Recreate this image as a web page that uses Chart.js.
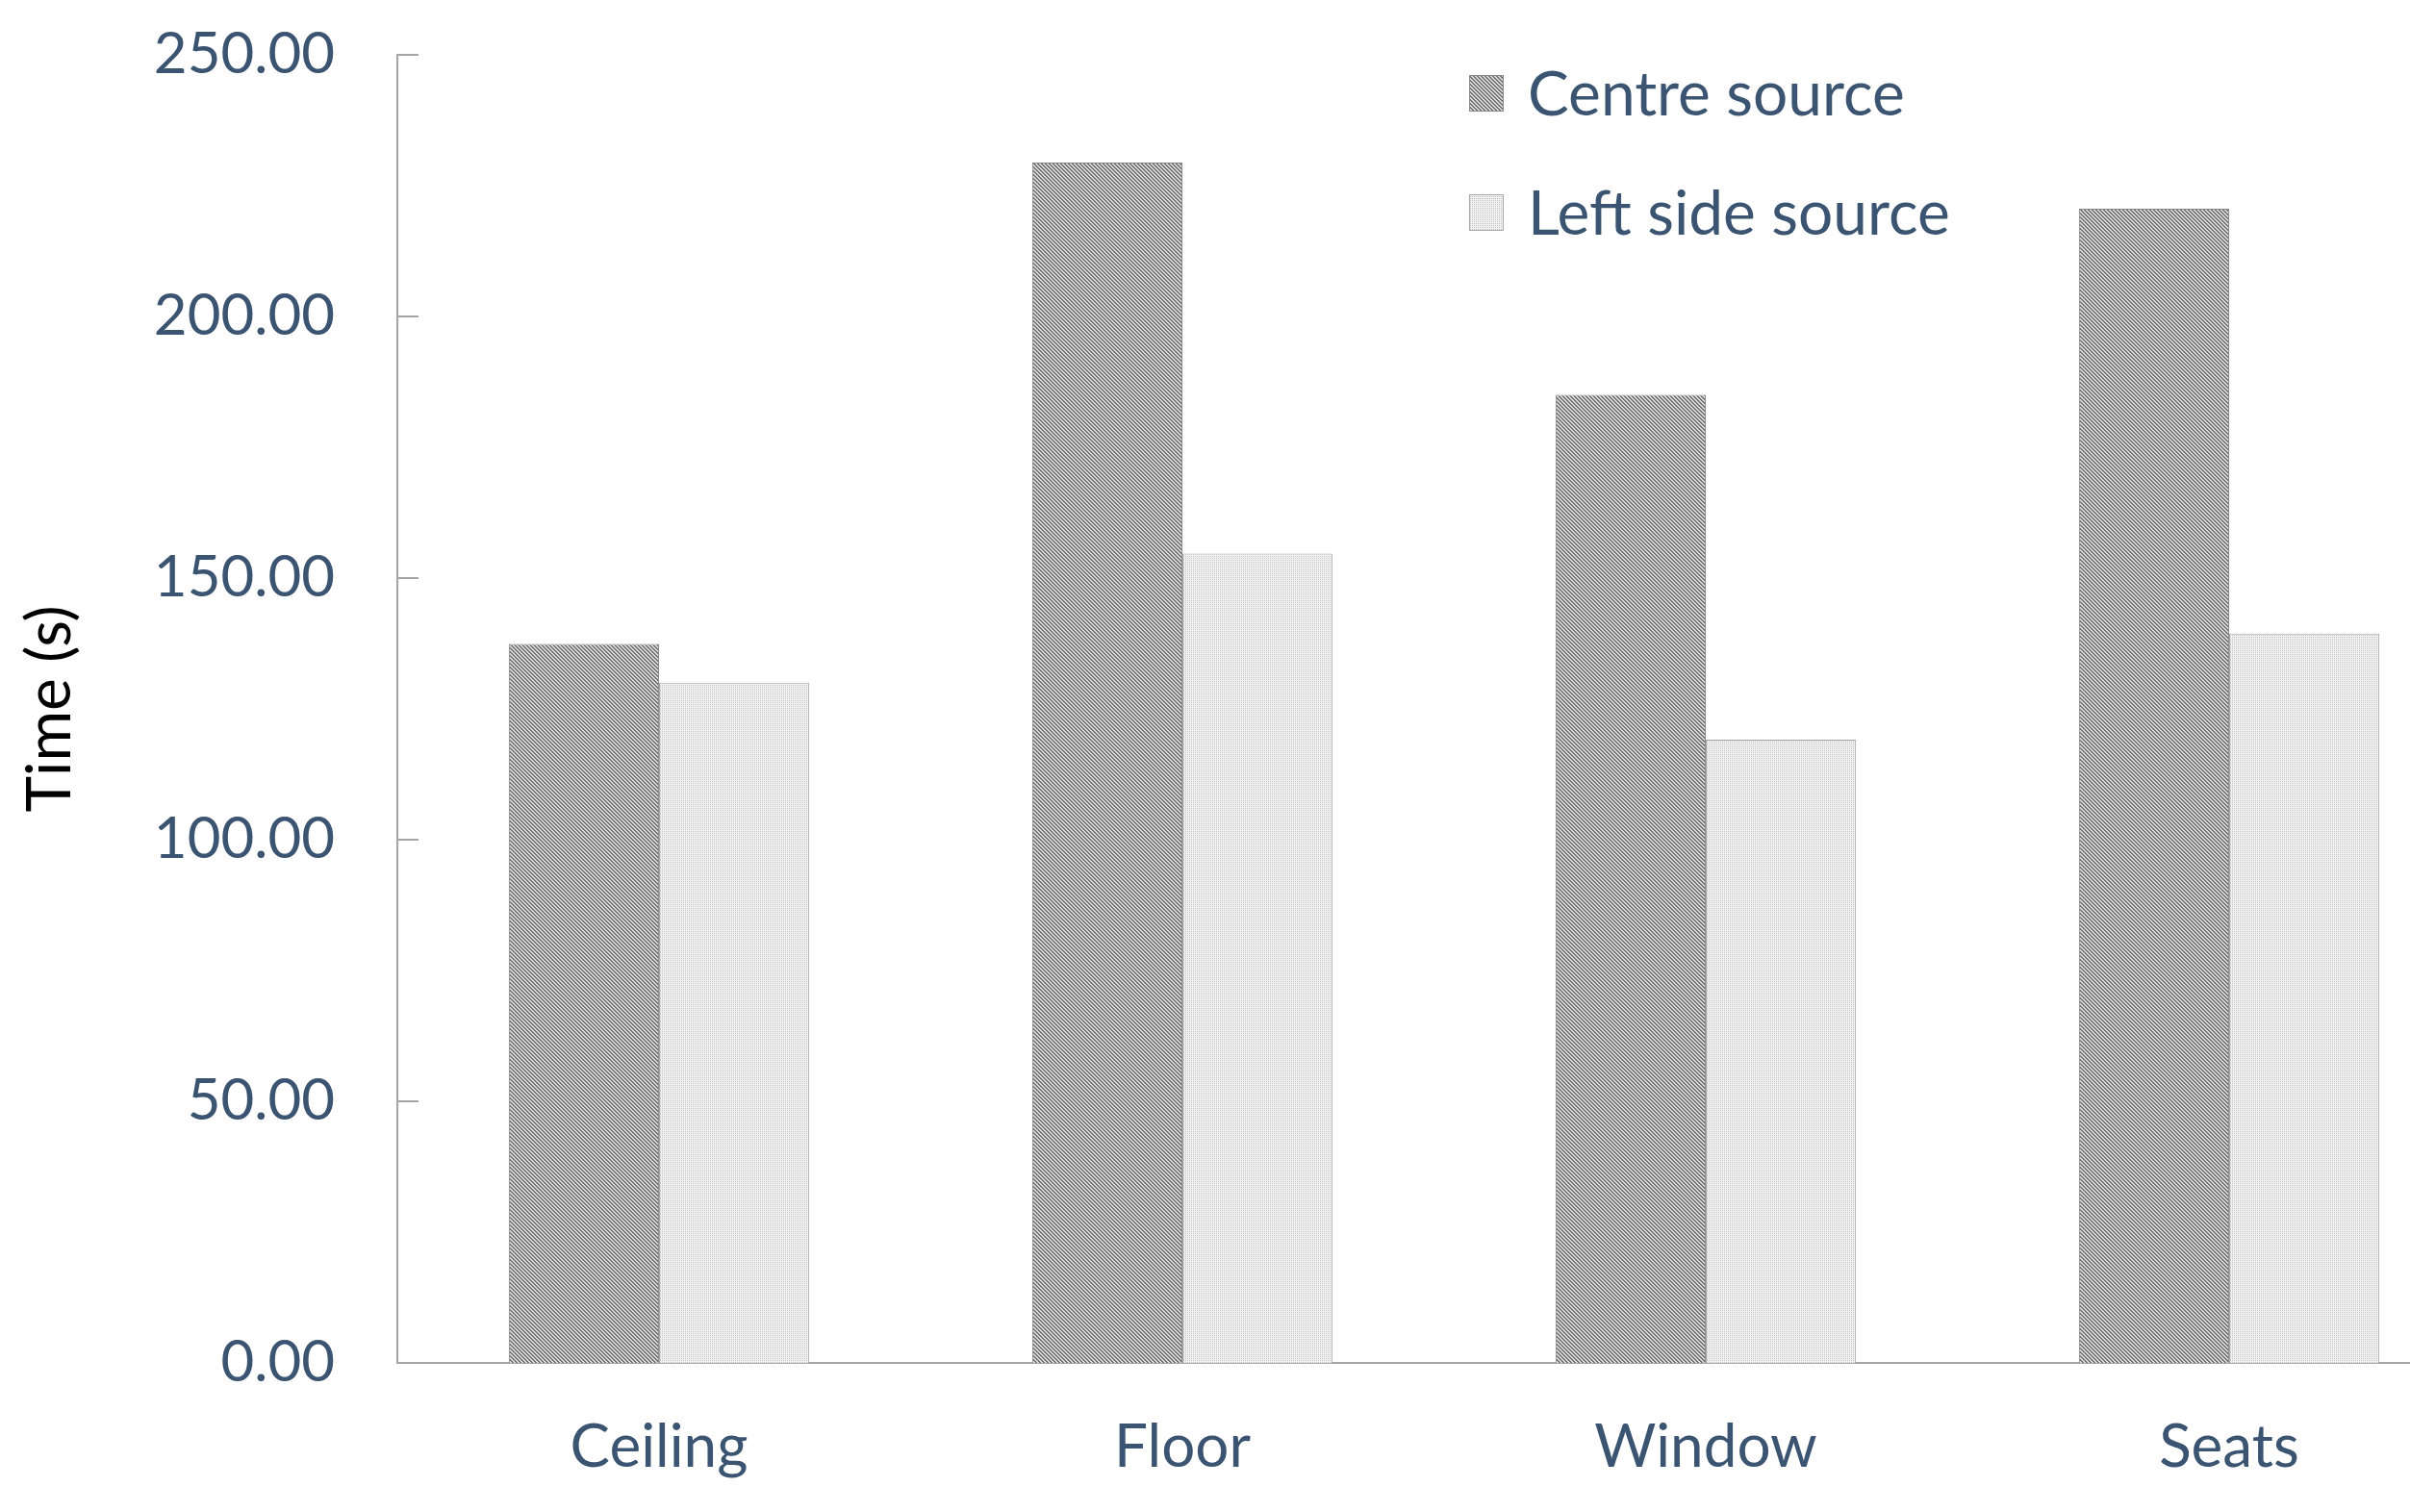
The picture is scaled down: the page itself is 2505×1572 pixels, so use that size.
<!DOCTYPE html>
<html>
<head>
<meta charset="utf-8">
<script src="https://cdn.jsdelivr.net/npm/chart.js@4.4.0/dist/chart.umd.min.js"></script>
<style>
  html, body { margin: 0; padding: 0; background: #ffffff; overflow: hidden; width: 2505px; height: 1572px; }
  #wrap { position: absolute; left: 0; top: 0; width: 2600px; height: 1572px; }
</style>
</head>
<body>
<div id="wrap"><canvas id="c" width="2600" height="1572"></canvas></div>
<script>
const categories = ['Ceiling', 'Floor', 'Window', 'Seats'];
const centreSource = [137.4, 229.4, 185.0, 220.6];
const leftSideSource = [130.0, 154.7, 119.1, 139.4];
const seriesNames = ['Centre source', 'Left side source'];
const yTicks = [0, 50, 100, 150, 200, 250];

const FONT = 'Lato, "Open Sans", sans-serif';
const TEXT_BLUE = '#3a5471';

function makePattern(kind) {
  const t = document.createElement('canvas');
  t.width = 4; t.height = 4;
  const g = t.getContext('2d');
  if (kind === 'diag') {
    g.fillStyle = '#dadada';
    g.fillRect(0, 0, 4, 4);
    g.fillStyle = '#747474';
    for (let r = 0; r < 4; r++) {
      for (let c = 0; c < 4; c++) {
        const d = ((c - r) % 4 + 4) % 4;
        if (d === 0 || d === 1) g.fillRect(c, r, 1, 1);
      }
    }
  } else {
    g.fillStyle = '#f2f2f2';
    g.fillRect(0, 0, 4, 4);
    g.fillStyle = '#c2c2c2';
    g.fillRect(0, 0, 1, 1);
    g.fillRect(2, 0, 1, 1);
    g.fillRect(0, 2, 1, 1);
    g.fillRect(2, 2, 1, 1);
  }
  return document.getElementById('c').getContext('2d').createPattern(t, 'repeat');
}

const centrePattern = makePattern('diag');
const leftPattern = makePattern('dots');

const innerTicks = {
  id: 'innerTicks',
  afterDatasetsDraw(chart) {
    const y = chart.scales.y;
    const ctx = chart.ctx;
    ctx.save();
    ctx.strokeStyle = '#a6a6a6';
    ctx.lineWidth = 2;
    yTicks.forEach(v => {
      const py = Math.round(y.getPixelForValue(v));
      ctx.beginPath();
      ctx.moveTo(y.right, py);
      ctx.lineTo(y.right + 22, py);
      ctx.stroke();
    });
    ctx.restore();
  }
};

const customLegend = {
  id: 'customLegend',
  afterDraw(chart) {
    const ctx = chart.ctx;
    ctx.save();
    const rows = [97, 221];
    chart.data.datasets.forEach((ds, i) => {
      const cy = rows[i];
      ctx.fillStyle = ds.backgroundColor;
      ctx.fillRect(1527, cy - 19, 36, 38);
      ctx.strokeStyle = ds.borderColor;
      ctx.lineWidth = 1;
      ctx.strokeRect(1527.5, cy - 18.5, 35, 37);
      ctx.fillStyle = TEXT_BLUE;
      ctx.font = '64px ' + FONT;
      ctx.textBaseline = 'middle';
      ctx.textAlign = 'left';
      ctx.fillText(ds.label, 1588, cy + 2);
    });
    ctx.restore();
  }
};

new Chart(document.getElementById('c'), {
  type: 'bar',
  data: {
    labels: categories,
    datasets: [
      {
        label: seriesNames[0],
        data: centreSource,
        backgroundColor: centrePattern,
        borderColor: '#8a8a8a',
        borderWidth: 1,
        categoryPercentage: 0.574,
        barPercentage: 1.0
      },
      {
        label: seriesNames[1],
        data: leftSideSource,
        backgroundColor: leftPattern,
        borderColor: '#a8a8a8',
        borderWidth: 1,
        categoryPercentage: 0.574,
        barPercentage: 1.0
      }
    ]
  },
  options: {
    responsive: false,
    animation: false,
    layout: { padding: { top: 57, right: 11, left: 0, bottom: 0 } },
    plugins: {
      legend: { display: false },
      tooltip: { enabled: false },
      title: { display: false }
    },
    scales: {
      x: {
        grid: { display: false, drawTicks: false },
        border: { display: true, color: '#a6a6a6', width: 2 },
        ticks: {
          color: TEXT_BLUE,
          font: { family: FONT, size: 62 },
          padding: 51
        },
        afterFit(scale) { scale.height = 155; }
      },
      y: {
        min: 0,
        max: 250,
        afterBuildTicks(scale) { scale.ticks = yTicks.map(v => ({ value: v })); },
        grid: { display: false, drawTicks: false },
        border: { display: true, color: '#a6a6a6', width: 2 },
        ticks: {
          color: TEXT_BLUE,
          font: { family: FONT, size: 60 },
          padding: 65,
          callback: v => Number(v).toFixed(2)
        },
        title: {
          display: true,
          text: 'Time (s)',
          color: '#000000',
          font: { family: FONT, size: 64 },
          padding: { top: 14, bottom: 0 }
        },
        afterFit(scale) {
          scale.width = 413;
          scale.paddingTop = 10;
          scale.paddingBottom = 10;
        }
      }
    }
  },
  plugins: [innerTicks, customLegend]
});
</script>
</body>
</html>
